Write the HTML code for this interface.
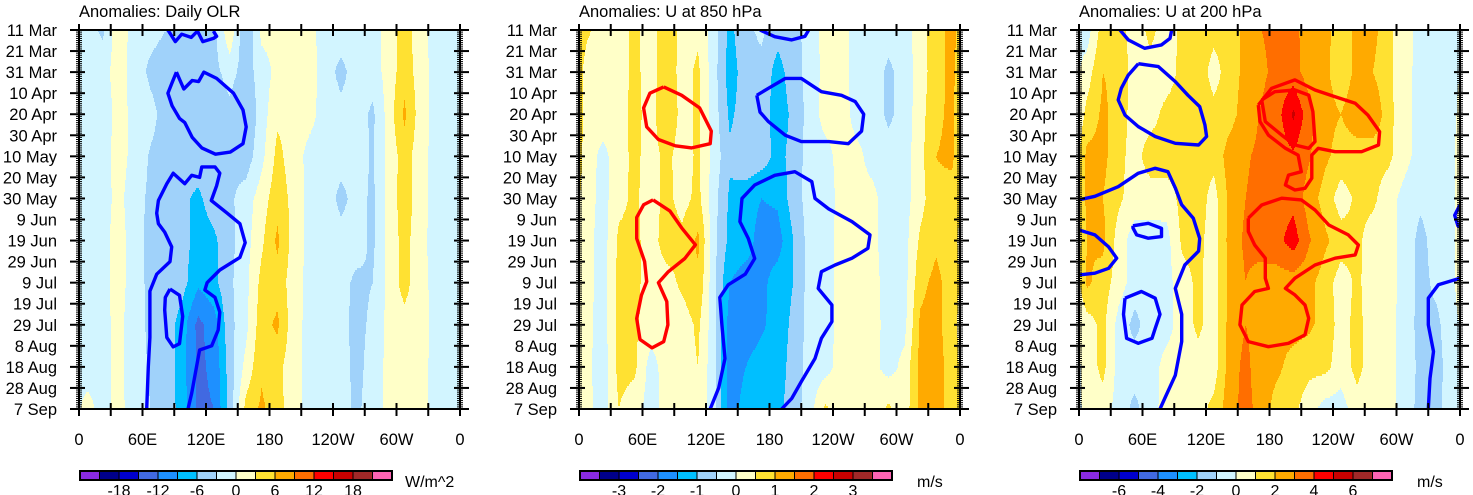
<!DOCTYPE html>
<html><head><meta charset="utf-8">
<style>
html,body{margin:0;padding:0;background:#fff;}
svg{display:block;font-family:"Liberation Sans",sans-serif;}
</style></head>
<body>
<svg id="chart" width="1473" height="495" viewBox="0 0 1473 495" xmlns="http://www.w3.org/2000/svg"></svg>
<script>
// ---------- data ----------
const dateLabels=["11 Mar","21 Mar","31 Mar","10 Apr","20 Apr","30 Apr","10 May","20 May","30 May","9 Jun","19 Jun","29 Jun","9 Jul","19 Jul","29 Jul","8 Aug","18 Aug","28 Aug","7 Sep"];
const lonLabels=["0","60E","120E","180","120W","60W","0"];
const titles=["Anomalies: Daily OLR","Anomalies: U at 850 hPa","Anomalies: U at 200 hPa"];
const units=["W/m^2","m/s","m/s"];
const levelSteps=[3,0.5,1];
const cbLabels1=["-18","-12","-6","0","6","12","18"];
const cbLabels2=["-3","-2","-1","0","1","2","3"];
const cbLabels3=["-6","-4","-2","0","2","4","6"];
const palette=["#8a2be2","#00008b","#0000cd","#4169e1","#1e90ff","#00bfff","#a0d2fa","#d2f5ff","#ffffc8","#ffe132","#ffaa00","#ff6e00","#ff0000","#c80000","#a02828","#ff64b4"];
// rows: every 20 days (11 Mar .. 7 Sep); columns: 15-degree bins centred at 7.5E..352.5E
const olr=[
[-1.8,-3.6,2.4,-1.8,-2.1,-3.0,-4.5,-6.0,-3.9,2.4,-6.0,0.9,0.9,1.5,0.9,-1.2,-1.5,-1.2,-1.2,1.2,4.5,1.2,-1.5,-1.8],
[-1.5,-1.2,1.5,-1.5,-3.6,-4.5,-4.5,-5.1,-3.9,-1.8,-4.5,-1.5,0.9,1.5,1.5,-1.5,-3.9,-1.5,-1.5,1.2,4.8,1.5,-1.2,-1.8],
[-1.8,-1.8,1.2,-0.9,-2.1,-4.2,-6.0,-3.9,-4.8,-3.9,-6.0,-1.5,2.4,1.8,0.9,-1.2,-2.1,-1.5,-3.6,1.2,6.6,1.5,-1.2,-1.5],
[-1.8,-1.5,1.5,-1.2,-3.3,-4.2,-3.9,-4.5,-3.6,-3.9,-4.8,-0.9,3.9,1.5,-0.9,-0.9,-1.8,-1.8,-3.3,0.9,4.5,1.2,-1.2,-1.5],
[-1.5,-1.2,0.9,-1.8,-3.6,-3.9,-5.4,-6.6,-4.5,-3.6,-1.5,1.5,4.8,2.1,-0.9,-1.2,-3.9,-1.8,-3.6,0.9,4.8,1.2,-1.2,-1.5],
[-1.5,-1.2,1.5,-1.8,-3.9,-4.2,-4.5,-7.5,-6.6,-3.9,-1.2,2.4,6.6,1.8,-0.9,-0.9,-1.8,-1.8,-3.6,0.9,4.2,0.9,-1.2,-1.5],
[-1.5,-0.9,1.2,-1.5,-3.9,-4.2,-4.8,-8.4,-6.9,-3.6,-0.9,3.9,4.8,1.5,-0.9,-1.2,-2.1,-3.6,-3.0,0.9,4.2,0.9,-0.9,-1.5],
[-1.5,-0.9,0.9,-1.8,-3.6,-4.2,-7.5,-12.9,-10.5,-3.9,-0.9,4.8,6.6,1.2,-0.9,-0.9,-2.1,-3.9,-2.4,0.9,1.8,1.2,-0.9,-1.5],
[-1.2,-0.9,0.9,-1.8,-3.3,-3.9,-7.8,-12.6,-11.4,-4.5,0.9,5.4,3.9,1.2,-0.9,-1.2,-1.8,-3.9,-1.8,0.9,1.5,0.9,-0.9,-1.2],
[0.9,-0.9,0.9,-1.5,-3.0,-3.9,-7.5,-12.6,-12.0,-4.8,3.9,6.6,4.2,1.2,-0.9,-1.2,-1.8,-3.6,-1.5,0.9,1.2,0.9,-0.9,-1.2]];
const u850=[
[0.6,0.2,0.25,0.65,0.2,0.9,0.3,0.4,-0.25,-1.15,-0.6,-0.4,-0.8,-0.75,-0.25,0.15,0.2,-0.2,-0.25,-0.3,-0.25,0.3,0.8,1.15],
[0.25,0.2,0.2,0.65,0.25,0.85,0.3,0.6,-0.3,-1.25,-0.75,-0.65,-1.2,-0.75,-0.3,0.15,0.25,-0.25,-0.25,-0.6,-0.3,0.25,0.8,1.15],
[0.3,0.25,0.25,0.7,0.25,1.0,0.3,0.6,-0.25,-1.1,-0.75,-0.75,-1.25,-0.9,-0.3,0.2,0.25,-0.2,-0.25,-0.6,-0.3,0.3,0.9,1.1],
[0.25,-0.15,0.25,0.65,0.25,0.65,0.25,0.6,-0.2,-0.9,-0.65,-0.75,-1.15,-0.85,-0.25,-0.2,0.2,0.15,-0.2,-0.3,-0.25,0.35,1.0,1.1],
[0.25,-0.2,0.35,0.6,0.25,0.65,0.3,0.65,-0.3,-1.1,-1.25,-1.5,-1.4,-0.75,-0.3,-0.25,0.15,0.15,0.15,-0.3,-0.2,0.3,0.9,0.8],
[0.2,-0.25,0.6,0.65,0.25,0.75,0.65,1.1,-0.35,-1.15,-1.25,-1.75,-1.75,-1.0,-0.3,-0.25,0.2,0.15,0.15,-0.3,-0.2,0.6,0.9,0.65],
[0.2,-0.25,0.65,0.65,0.25,0.3,0.6,0.9,-0.35,-1.5,-1.75,-1.65,-1.25,-1.0,-0.3,-0.25,0.2,0.2,0.2,-0.25,-0.2,0.85,1.15,0.75],
[0.15,-0.25,0.65,0.6,0.25,0.2,0.25,0.6,-0.3,-1.75,-1.8,-1.6,-1.25,-0.9,-0.3,-0.25,0.2,0.2,0.2,-0.2,-0.15,1.1,1.2,0.65],
[0.15,-0.3,0.65,0.6,-0.2,0.2,0.25,0.5,-0.35,-1.8,-1.5,-1.25,-1.25,-0.8,-0.3,-0.2,0.2,0.15,0.15,-0.2,0.15,1.15,1.25,0.75],
[0.15,-0.25,0.5,0.25,-0.25,0.2,0.25,0.4,-0.35,-1.75,-1.3,-1.25,-1.15,-0.75,-0.25,0.6,0.2,0.15,0.2,0.6,0.2,1.15,1.25,0.75]];
const u200=[
[-0.5,1.5,1.5,0.4,1.3,0.4,1.3,1.5,1.3,1.5,2.3,3.0,3.3,3.3,2.5,2.3,1.5,2.2,2.4,1.2,0.5,-0.4,-0.5,-0.5],
[0.5,2.0,1.8,0.5,0.6,0.5,1.3,1.6,0.6,1.5,2.3,2.8,3.3,3.4,2.5,2.2,1.5,2.2,2.0,1.2,0.4,-0.4,-0.5,-0.5],
[1.3,2.2,1.6,0.5,0.6,1.3,1.5,1.5,1.3,1.6,2.5,3.1,3.6,5.2,3.3,2.3,2.0,2.5,3.0,1.3,0.4,-0.4,-0.5,-0.5],
[2.3,2.3,1.3,0.6,1.5,1.5,1.3,1.5,1.3,2.5,2.9,3.2,3.4,3.8,3.1,2.2,1.6,1.6,1.3,1.2,0.4,-0.5,-0.5,-0.5],
[2.3,2.0,1.2,0.5,0.5,0.5,1.3,1.5,0.6,2.3,3.0,3.3,3.4,3.7,2.5,1.6,0.5,1.2,1.2,0.5,-0.4,-0.8,-0.6,-0.5],
[2.0,2.3,0.5,-0.5,-0.5,-0.4,1.2,1.3,0.5,2.4,3.2,3.5,3.7,4.5,3.1,2.2,1.5,1.2,0.6,0.5,-0.4,-1.3,-0.6,-0.5],
[2.2,1.5,0.5,-0.5,-0.5,-0.4,0.6,1.2,0.5,2.3,3.0,2.5,2.5,2.5,2.3,1.5,0.5,1.2,0.5,0.5,-0.4,-1.3,-0.8,-0.5],
[0.5,1.3,-0.4,-1.3,-0.5,-0.4,0.5,1.2,0.5,2.4,3.0,2.5,2.3,2.4,2.2,1.6,0.6,1.3,0.5,0.4,-0.5,-1.3,-1.2,-0.5],
[0.4,1.3,-0.4,-0.5,-0.5,0.4,0.5,0.6,0.5,2.5,3.3,2.3,2.2,1.6,1.3,1.3,0.5,1.3,0.5,0.4,-0.5,-1.2,-1.3,-0.6],
[0.3,0.5,-0.4,-1.3,-0.4,0.4,0.5,0.6,1.3,2.6,3.4,2.5,1.6,1.3,0.4,-0.4,-0.5,0.6,0.5,0.4,-0.5,-1.3,-1.2,-0.6]];
// contours: [longitude (deg E), time (units of 10 days from 11 Mar)]
const olrBlue1=[[84,0],[91,0.55],[97,0.2],[106,0.35],[112,0.05],[117,0.55],[127,0.4],[130,0.3],[127,0.05]];
const olrBlue2=[[92,2.0],[99,2.8],[107,2.4],[113,2.45],[118,2.0],[130,2.3],[146,3.0],[155,3.8],[158,4.6],[155,5.4],[143,5.8],[129,5.9],[116,5.6],[107,5.1],[100,4.4],[95,4.2],[88,3.6],[84,3.0],[88,2.5],[92,2.0]];
const olrBlue3=[[64,18],[65.5,16],[67,14.6],[67,13.4],[67,12.4],[73.4,11.6],[86,11.0],[87.6,10.3],[81,9.6],[75,9.2],[73.4,8.7],[75,8.1],[83,7.3],[89,6.8],[100,7.3],[106.5,6.9],[114,7.0],[116,6.5],[128.5,6.5],[133,6.8],[130,7.4],[125,8.1],[140,8.7],[152,9.2],[157,10.1],[152,10.8],[133,11.4],[121,12.0],[119,12.35],[128.5,12.7],[133,13.4],[131.5,14.25],[125.4,15.0],[114,15.2],[111,16.0],[106.5,17.25],[103,18]];
const olrBlue4=[[86,12.3],[95,12.6],[98,13.6],[95,14.9],[89,15.05],[83,14.6],[81,13.3],[81.5,12.7],[86,12.3]];
const u850Red1=[[80,2.7],[97,3.1],[114,3.7],[125,4.8],[124,5.4],[106.5,5.6],[91,5.5],[75,5.2],[64,4.6],[61,3.7],[67,3.0],[80,2.7]];
const u850Red2=[[70,8.07],[86,8.6],[97,9.4],[110,10.2],[100,10.85],[84,11.5],[75,12.0],[83,12.9],[84,14.0],[80,14.8],[69,15.1],[57.6,14.7],[54.5,13.7],[59,12.6],[64,11.95],[62,11.0],[54.5,9.9],[54.5,8.9],[61,8.3],[70,8.07]];
const u850Blue1=[[171,0],[185,0.32],[201,0.47],[213.5,0.3],[217,0]];
const u850Blue2=[[168,3.1],[179,2.77],[195,2.3],[210,2.3],[229,2.93],[248,3.1],[261,3.4],[269,4.0],[267,4.8],[254.5,5.4],[236,5.3],[210,5.3],[195,5.0],[179,4.35],[171,3.9],[168,3.1]];
const u850Blue3=[[124,18],[132,17],[138,15.6],[135,14],[133,12.7],[141,12.1],[157,11.6],[166,10.85],[160,9.9],[152,9.1],[154,8.0],[166,7.36],[185,6.9],[204,6.73],[220,7.2],[223,8.0],[236,8.5],[258,9.1],[275,9.73],[273,10.37],[258,10.84],[242,11.16],[229,11.48],[226,12.27],[239,13.06],[239,13.85],[229,14.64],[223,15.6],[210,16.7],[201,17.5],[191.5,18]];
const u200Blue1=[[38.7,0],[46.6,0.47],[62,0.87],[78,0.71],[86,0.4],[87.6,0]];
const u200Blue2=[[56,1.6],[75,1.74],[91,2.45],[103,3.1],[114,3.64],[119,4.5],[120.6,5.06],[113,5.46],[91,5.38],[72,5.06],[56,4.59],[43.5,4.04],[37,3.32],[40,2.77],[46.6,2.14],[56,1.6]];
const u200Blue3=[[0,8.07],[15,7.9],[37,7.44],[56,6.8],[72,6.57],[84,6.73],[91,7.5],[97,8.3],[108,8.94],[114,9.9],[113,10.5],[100,11.16],[91,12.27],[97,13.5],[97,14.8],[91,16.4],[81,17.5],[76.5,18]];
const u200Blue4=[[0,9.5],[15,9.73],[28,10.3],[35.6,10.84],[28,11.32],[15,11.55],[0,11.63]];
const u200Blue5=[[51,9.3],[65.5,9.18],[78,9.42],[78,9.81],[65.5,9.89],[54.5,9.73],[51,9.4],[51,9.3]];
const u200Blue6=[[43.5,12.74],[59,12.42],[72,12.74],[76.5,13.5],[72,14.17],[69,14.64],[56,14.88],[45,14.64],[42,13.5],[43.5,12.74]];
const u200Blue7=[[360,8.3],[355,8.8],[358,9.3],[360,9.3]];
const u200Blue8=[[360,11.79],[339.5,12.1],[330,12.74],[330,14],[335,15.27],[331.7,16.54],[330,18]];
const u200Red1=[[169.4,3.56],[182,2.77],[204,2.37],[223,2.85],[242,3.17],[261,3.48],[273,4.04],[284,4.83],[283,5.46],[267,5.78],[242,5.78],[226,5.62],[220,5.94],[220,7.04],[213.5,7.52],[204,7.6],[195,7.36],[198,6.89],[210,6.73],[207,5.94],[195,5.62],[179,4.99],[171,4.35],[169.4,3.56]];
const u200Red2=[[172.6,3.32],[185,2.93],[204,2.85],[217,3.09],[221,3.88],[223,5.3],[217,5.62],[204,5.46],[191.5,4.99],[176,4.35],[172.6,3.32]];
const u200Red3=[[160,8.94],[172.6,8.31],[191.5,7.99],[210,8.07],[223,8.55],[236,9.26],[254.5,9.73],[264,10.21],[261,10.68],[242,10.84],[223,11.16],[204,11.79],[195,12.27],[204,12.58],[213.5,13.06],[217,13.69],[213.5,14.48],[198,14.88],[179,15.04],[160,14.8],[152,14.0],[154,13.06],[166,12.42],[179,12.27],[176,11.79],[176,10.84],[166,10.21],[160,9.57],[160,8.94]];

// ---------- layout ----------
const NS="http://www.w3.org/2000/svg";
const svg=document.getElementById('chart');
const PX=[79,579,1079], PW=381, PY=30, PH=379;
function mk(tag,attrs,parent){const e=document.createElementNS(NS,tag);for(const k in attrs)e.setAttribute(k,attrs[k]);(parent||svg).appendChild(e);return e;}
function xScale(p,lon){return PX[p]+lon/360*PW;}
function yScale(t){return PY+t/18*PH;}
function sample(grid,lon,t){
  const nc=grid[0].length, nr=grid.length;
  let c=(lon-7.5)/15; c=((c%nc)+nc)%nc;
  const c0=Math.floor(c), c1=(c0+1)%nc, fc=c-c0;
  let r=t/18*(nr-1); r=Math.max(0,Math.min(nr-1,r));
  const r0=Math.floor(r), r1=Math.min(nr-1,r0+1), fr=r-r0;
  const a=grid[r0][c0]*(1-fc)+grid[r0][c1]*fc, b=grid[r1][c0]*(1-fc)+grid[r1][c1]*fc;
  return a*(1-fr)+b*fr;
}
function colorIdx(v,step){return Math.max(0,Math.min(15,Math.floor(v/step)+8));}
const grids=[olr,u850,u200];
const contours=[
 [[olrBlue1,'#0000ff'],[olrBlue2,'#0000ff'],[olrBlue3,'#0000ff'],[olrBlue4,'#0000ff']],
 [[u850Red1,'#ff0000'],[u850Red2,'#ff0000'],[u850Blue1,'#0000ff'],[u850Blue2,'#0000ff'],[u850Blue3,'#0000ff']],
 [[u200Blue1,'#0000ff'],[u200Blue2,'#0000ff'],[u200Blue3,'#0000ff'],[u200Blue4,'#0000ff'],[u200Blue5,'#0000ff'],[u200Blue6,'#0000ff'],[u200Blue7,'#0000ff'],[u200Blue8,'#0000ff'],[u200Red1,'#ff0000'],[u200Red2,'#ff0000'],[u200Red3,'#ff0000']]];
const cbLabels=[cbLabels1,cbLabels2,cbLabels3];
const panelNames=['olr-panel','u850-panel','u200-panel'];

for(let p=0;p<3;p++){
  const g=mk('g',{});
  
  
  mk('clipPath',{id:'clip'+p},g);
  mk('rect',{x:PX[p],y:PY,width:PW,height:PH},g.lastChild);
  const field=mk('g',{'clip-path':'url(#clip'+p+')'},g);
  
  
  const dy=2;
  for(let py=0;py<PH;py+=dy){
    const t=(py+dy/2)/PH*18;
    let start=0, cur=-1;
    for(let px=0;px<=PW;px++){
      const ci = px<PW ? colorIdx(sample(grids[p],(px+0.5)/PW*360,t),levelSteps[p]) : -2;
      if(ci!==cur){
        if(cur>=0){
          const r=mk('rect',{x:PX[p]+start,y:PY+py,width:px-start+0.5,height:dy+0.4,fill:palette[cur]},field);
          
          
        }
        cur=ci; start=px;
      }
    }
  }
  contours[p].forEach(([pts,col])=>{
    const d=pts.map((q,i)=>(i?'L':'M')+xScale(p,q[0]).toFixed(1)+' '+yScale(q[1]).toFixed(1)).join(' ');
    const path=mk('path',{d:d,fill:'none',stroke:col,'stroke-width':3.4,'stroke-linejoin':'round'},field);
    
    
  });
  const fr=mk('rect',{x:PX[p],y:PY,width:PW,height:PH,fill:'none',stroke:'#000','stroke-width':2},g);
  
  
  const yt=mk('g',{stroke:'#000','stroke-width':1},g);
  for(let d=0;d<=180;d++){
    const y=PY+d/180*PH, major=d%10===0;
    if(major){
      mk('line',{x1:PX[p]-9,x2:PX[p]+6,y1:y,y2:y,'stroke-width':2},yt);
      mk('line',{x1:PX[p]+PW-6,x2:PX[p]+PW+9,y1:y,y2:y,'stroke-width':2},yt);
    } else {
      mk('line',{x1:PX[p]-3,x2:PX[p]+3,y1:y,y2:y},yt);
      mk('line',{x1:PX[p]+PW-3,x2:PX[p]+PW+3,y1:y,y2:y},yt);
    }
  }
  
  
  dateLabels.forEach((s,i)=>{
    const t=mk('text',{x:PX[p]-22,y:yScale(i)+6,'text-anchor':'end','font-size':16.5},g);
    t.textContent=s;
    
    
  });
  const xt=mk('g',{stroke:'#000','stroke-width':2},g);
  for(let k=0;k<=12;k++){
    const x=xScale(p,k*30);
    mk('line',{x1:x,x2:x,y1:PY-6,y2:PY+6},xt);
    mk('line',{x1:x,x2:x,y1:PY+PH-6,y2:PY+PH+7},xt);
  }
  
  
  lonLabels.forEach((s,i)=>{
    const t=mk('text',{x:xScale(p,i*60),y:445,'text-anchor':'middle','font-size':16.5},g);
    t.textContent=s;
    
    
  });
  const tt=mk('text',{x:PX[p],y:17,'font-size':16.5},g);
  tt.textContent=titles[p];
  
  
  const cb=mk('g',{},g);
  
  
  const cbx=PX[p]+1, cbw=312/16;
  palette.forEach((c,i)=>{
    const r=mk('rect',{x:cbx+i*cbw,y:471,width:cbw,height:9,fill:c,stroke:'#000','stroke-width':1},cb);
    
    
  });
  mk('rect',{x:cbx,y:471,width:312,height:9,fill:'none',stroke:'#000','stroke-width':2},cb);
  cbLabels[p].forEach((s,i)=>{
    const t=mk('text',{x:cbx+(2*i+2)*cbw,y:496,'text-anchor':'middle','font-size':16},cb);
    t.textContent=s;
    
    
  });
  const ut=mk('text',{x:p===0?PX[p]+326:PX[p]+338,y:487,'font-size':16},cb);
  ut.textContent=units[p];
  
  
}
</script>
</body></html>
